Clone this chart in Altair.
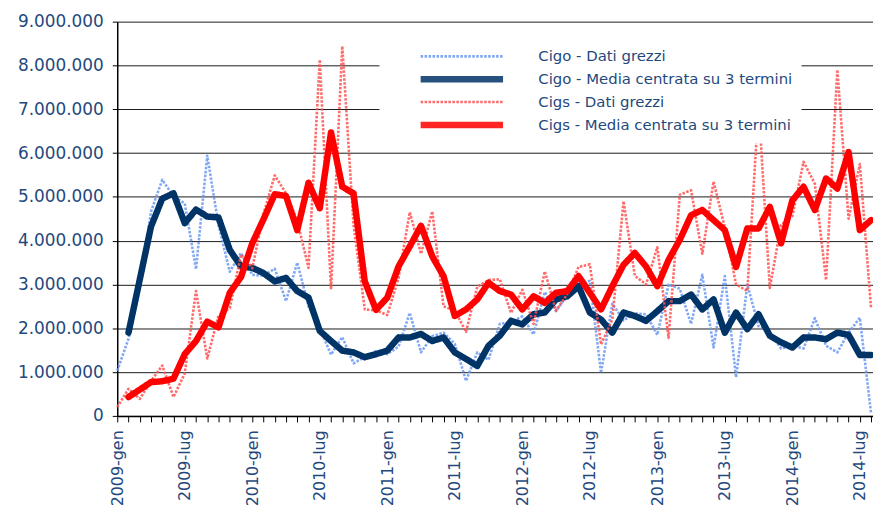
import altair as alt
import pandas as pd

x_labels = ["2009-gen", "2009-lug", "2010-gen", "2010-lug", "2011-gen", "2011-lug",
            "2012-gen", "2012-lug", "2013-gen", "2013-lug", "2014-gen", "2014-lug"]
series_names = ["Cigo - Dati grezzi", "Cigo - Media centrata su 3 termini",
                "Cigs - Dati grezzi", "Cigs - Media centrata su 3 termini"]

# values in millions of hours, monthly Jan 2009 - Aug 2014
cigo_raw = [1.03, 1.76, 2.91, 4.66, 5.39, 5.01, 4.85, 3.35, 5.94, 4.36, 3.29, 3.72,
            3.22, 3.20, 3.36, 2.62, 3.50, 2.50, 2.00, 1.40, 1.80, 1.20, 1.34, 1.48,
            1.41, 1.58, 2.35, 1.45, 1.82, 1.90, 1.65, 0.80, 1.45, 1.28, 2.10, 2.14,
            2.27, 1.86, 2.83, 2.39, 2.76, 3.04, 3.08, 0.98, 2.56, 2.18, 2.34, 2.32,
            1.85, 3.00, 2.90, 2.10, 3.22, 1.56, 3.19, 0.88, 3.00, 2.05, 1.90, 1.54,
            1.60, 1.54, 2.23, 1.60, 1.45, 1.90, 2.24, 0.05]
cigo_ma = [None, 1.90, 3.11, 4.32, 4.96, 5.08, 4.40, 4.71, 4.55, 4.53, 3.79, 3.41,
           3.38, 3.26, 3.07, 3.15, 2.85, 2.70, 1.94, 1.71, 1.49, 1.45, 1.34, 1.41,
           1.49, 1.79, 1.79, 1.87, 1.71, 1.79, 1.45, 1.30, 1.14, 1.60, 1.83, 2.17,
           2.09, 2.32, 2.36, 2.66, 2.73, 2.96, 2.36, 2.20, 1.90, 2.36, 2.28, 2.17,
           2.39, 2.62, 2.62, 2.77, 2.43, 2.66, 1.90, 2.36, 1.98, 2.32, 1.83, 1.68,
           1.56, 1.79, 1.79, 1.75, 1.90, 1.85, 1.39, 1.39]
cigs_raw = [0.20, 0.62, 0.39, 0.79, 1.15, 0.43, 0.97, 2.85, 1.31, 2.29, 2.46, 3.68,
            3.37, 4.61, 5.49, 5.08, 4.45, 3.38, 8.13, 2.89, 8.44, 4.37, 2.43, 2.41,
            2.30, 3.15, 4.65, 3.70, 4.67, 2.50, 2.40, 1.92, 2.95, 3.10, 3.12, 2.35,
            2.88, 2.10, 3.30, 2.40, 2.78, 3.40, 3.46, 1.63, 2.20, 4.90, 3.20, 3.00,
            3.85, 1.78, 5.05, 5.15, 3.70, 5.35, 4.30, 3.00, 2.85, 7.08, 2.92, 4.36,
            4.56, 5.80, 5.30, 3.10, 7.90, 4.50, 5.75, 2.45]
cigs_ma = [None, 0.43, 0.60, 0.77, 0.79, 0.85, 1.41, 1.71, 2.15, 2.02, 2.81, 3.17,
           3.94, 4.49, 5.06, 5.02, 4.24, 5.32, 4.74, 6.47, 5.23, 5.08, 3.07, 2.42,
           2.70, 3.41, 3.87, 4.34, 3.64, 3.19, 2.28, 2.43, 2.66, 3.04, 2.85, 2.77,
           2.43, 2.73, 2.58, 2.81, 2.85, 3.19, 2.81, 2.43, 2.96, 3.45, 3.72, 3.41,
           2.96, 3.56, 4.02, 4.58, 4.70, 4.47, 4.24, 3.40, 4.28, 4.28, 4.77, 3.94,
           4.92, 5.23, 4.70, 5.42, 5.19, 6.02, 4.24, 4.47]

colors = ["#6A98F2", "#003366", "#FF5050", "#FF0000"]
dashes = [[2.5, 1.5], [1, 0], [2.5, 1.5], [1, 0]]
widths = [2.6, 6.5, 2.6, 6.5]

rows = []
for name, vals in zip(series_names, [cigo_raw, cigo_ma, cigs_raw, cigs_ma]):
    for i, v in enumerate(vals):
        if v is not None:
            rows.append({"m": i, "v": v * 1e6, "serie": name})
df = pd.DataFrame(rows)

label_array = "[" + ",".join("'%s'" % s for s in x_labels) + "]"
x_label_expr = "datum.value % 6 == 0 ? " + label_array + "[datum.value / 6] : ''"

legend = alt.Legend(
    title=None, orient="none", legendX=264, legendY=16.5,
    fillColor="white", padding=8, symbolType="stroke", symbolSize=6889,
    symbolOffset=30, labelOffset=32, clipHeight=21, rowPadding=2,
    labelFont="DejaVu Sans", labelFontSize=15, labelColor="#1F497D",
    labelLimit=400,
)

axis_style = dict(labelFont="DejaVu Sans", labelColor="#1F497D",
                  domainColor="#000000", domainWidth=1.5, tickColor="#000000",
                  tickWidth=1, title=None)

enc = dict(
    x=alt.X("m:Q", scale=alt.Scale(domain=[0, 67.17], nice=False, zero=False),
            axis=alt.Axis(values=list(range(68)), labelExpr=x_label_expr,
                          labelAngle=270, grid=False, tickSize=6, labelPadding=8,
                          labelFontSize=16,
                          labelOverlap=False, labelFlush=False, labelBound=False,
                          **axis_style)),
    y=alt.Y("v:Q", scale=alt.Scale(domain=[0, 9e6], nice=False),
            axis=alt.Axis(values=[i * 1e6 for i in range(10)],
                          labelExpr="replace(format(datum.value, ',d'), regexp(',', 'g'), '.')",
                          grid=True, gridColor="#1a1a1a", gridWidth=1,
                          labelFontSize=17,
                          tickSize=5, labelPadding=9, **axis_style)),
    color=alt.Color("serie:N", scale=alt.Scale(domain=series_names, range=colors), legend=legend),
    strokeDash=alt.StrokeDash("serie:N", scale=alt.Scale(type="ordinal", domain=series_names, range=dashes), legend=legend),
    strokeWidth=alt.StrokeWidth("serie:N", scale=alt.Scale(type="ordinal", domain=series_names, range=widths), legend=legend),
)

layers = []
for k, name in enumerate(series_names):
    raw = k in (0, 2)
    layers.append(
        alt.Chart(df).transform_filter(alt.datum.serie == name)
        .mark_line(strokeJoin="round", strokeCap="butt" if raw else "round",
                   opacity=0.85 if raw else 1.0)
        .encode(**enc)
    )

chart = (
    alt.layer(*layers)
    .properties(width=761, height=397, background="white",
                padding={"left": 110, "top": 12, "right": 0, "bottom": 88},
                autosize=alt.AutoSizeParams(type="none"))
    .configure_view(stroke=None)
)

chart.save("out.html", embed_options={"renderer": "svg", "actions": False})
